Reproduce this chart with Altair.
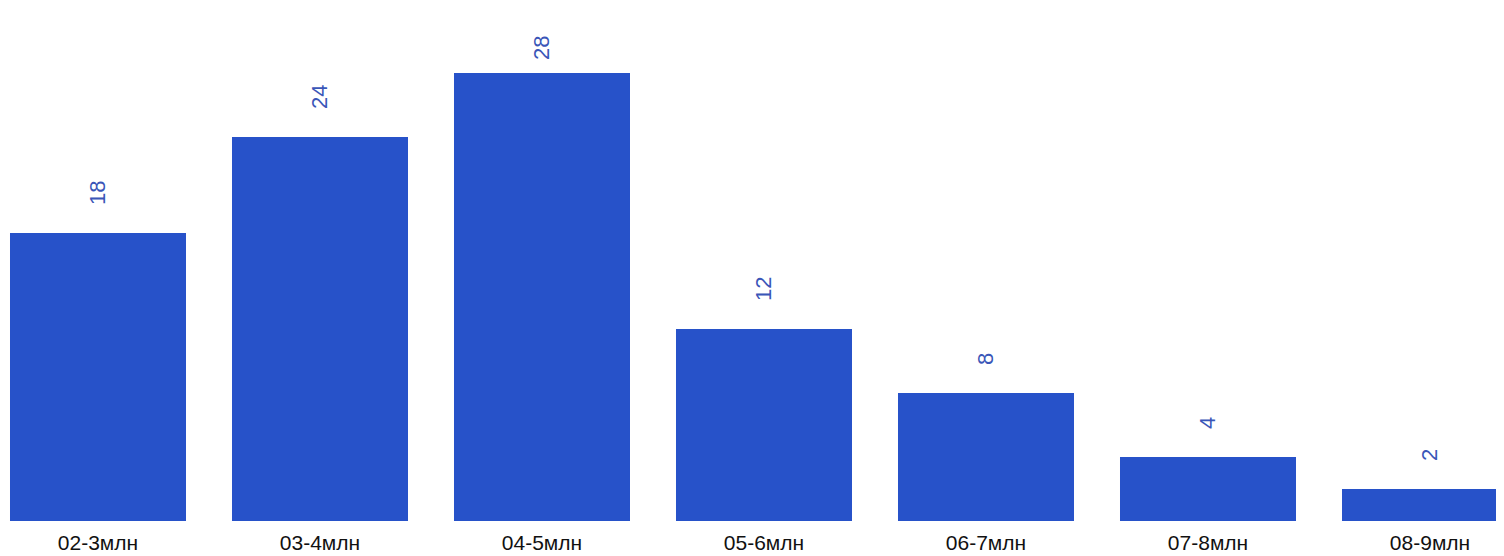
import altair as alt
import pandas as pd

categories = ["02-3млн", "03-4млн", "04-5млн", "05-6млн", "06-7млн", "07-8млн", "08-9млн"]
values = [18, 24, 28, 12, 8, 4, 2]

df = pd.DataFrame({"cat": categories, "value": values})

BAR = "#2752C9"
LABEL = "#3A56B8"

x = alt.X("cat:N", sort=categories, title=None,
          scale=alt.Scale(paddingInner=0.2072, paddingOuter=0.009, range=[0, 1512]),
          axis=alt.Axis(labelAngle=0, labelFontSize=21, labelColor="#111111",
                        labelFont="Liberation Sans", ticks=False, domain=False,
                        labelPadding=11, grid=False))

base = alt.Chart(df)

ys = alt.Scale(domain=[0, 32.06], nice=False)

bars = base.mark_bar(color=BAR).encode(
    x=x,
    y=alt.Y("value:Q", scale=ys, axis=None),
)

labels = base.transform_calculate(
    ly="min(datum.value, 27.06)"
).mark_text(
    angle=270, align="left", baseline="middle", dx=28,
    fontSize=22, font="Liberation Sans", color=LABEL
).encode(
    x=x,
    y=alt.Y("ly:Q", scale=ys, axis=None),
    text=alt.Text("value:Q"),
)

chart = (bars + labels).properties(
    width=1488, height=513,
    autosize=alt.AutoSizeParams(type="none"),
    padding={"left": 0, "top": 0, "right": 0, "bottom": 36},
    background="white",
).configure_view(strokeWidth=0, stroke="transparent")

chart.save("out.html", embed_options={"renderer": "svg", "actions": False})
